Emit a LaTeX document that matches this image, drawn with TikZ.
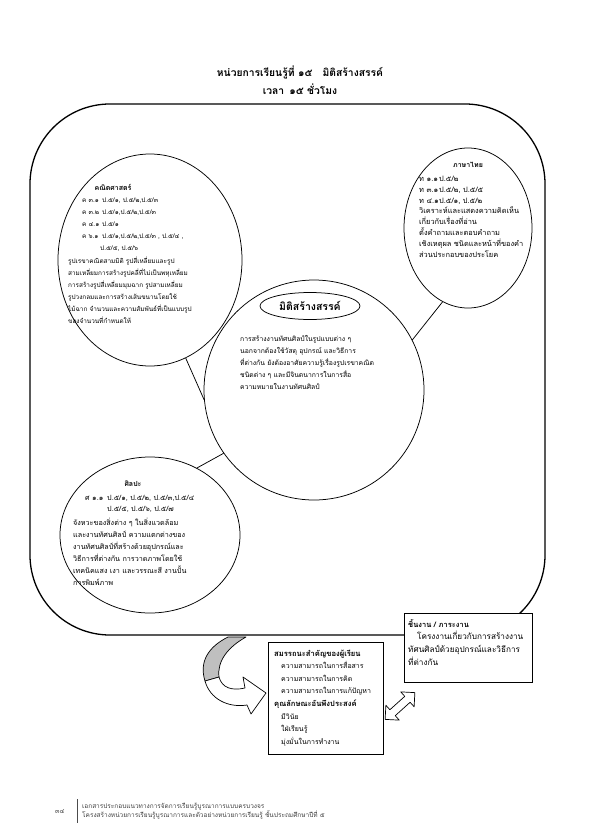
\documentclass[tikz,border=0pt]{standalone}
\usepackage{fontspec}
\setmainfont[Script=Thai]{Loma}
\usetikzlibrary{shapes.geometric}
\begin{document}
\begin{tikzpicture}[x=1bp,y=-1bp,
  bubble/.style={draw, ellipse, line width=0.75bp, inner sep=0pt},
  ring/.style={draw, circle, line width=0.75bp, inner sep=0pt},
  body/.style={inner sep=0pt, align=left, anchor=base west},
  head/.style={inner sep=0pt, anchor=base, font=\bfseries\fontsize{7bp}{12bp}\selectfont},
  framebox/.style={draw, fill=white, line width=0.9bp, inner sep=0pt},
  link/.style={line width=0.75bp},
]
\useasboundingbox (0,0) rectangle (595,836);
\fill[white] (0,0) rectangle (595,836);

% title (base = last line)
\node[inner sep=0pt, align=center, anchor=base, font=\bfseries\fontsize{10.3bp}{18bp}\selectfont] (title) at (300,94) {หน่วยการเรียนรู้ที่ ๑๕\quad มิติสร้างสรรค์\\เวลา\enspace ๑๕ ชั่วโมง};

% outer frame
\node[draw, line width=1.3bp, rounded corners=80bp, minimum width=515bp, minimum height=531bp, inner sep=0pt] (frame) at (287.5,369.5) {};

% bubbles
\node[bubble, minimum width=184bp, minimum height=212bp] (math) at (150,260) {};
\node[bubble, minimum width=128bp, minimum height=160bp] (thai) at (468,228) {};
\node[ring, minimum size=220bp] (core) at (314,390) {};
\node[bubble, minimum width=180bp, minimum height=156bp] (art) at (150,535) {};
\node[bubble, minimum width=100bp, minimum height=27bp, font=\bfseries\fontsize{10.5bp}{11bp}\selectfont] (theme) at (310,306) {มิติสร้างสรรค์};

% connectors
\draw[link] (math.-70) -- (core.185);
\draw[link] (thai.-109) -- (core.27);
\draw[link] (core.215) -- (art.55);

% math text
\node[head] (mathh) at (113,190.5) {คณิตศาสตร์};
\node[body, font=\fontsize{6.4bp}{12.1bp}\selectfont] (mathc) at (82,250.9) {\makebox[20bp][l]{ค ๓.๑}ป.๕/๑, ป.๕/๒,ป.๕/๓\\
\makebox[20bp][l]{ค ๓.๒}ป.๕/๑,ป.๕/๒,ป.๕/๓\\
\makebox[20bp][l]{ค ๔.๑}ป.๕/๑\\
\makebox[20bp][l]{ค ๖.๑}ป.๕/๑,ป.๕/๒,ป.๕/๓ , ป.๕/๔ ,\\
\hspace*{18bp}ป.๕/๕, ป.๕/๖};
\node[body, font=\fontsize{6.4bp}{12.1bp}\selectfont] (mathd) at (68,323.5) {รูปเรขาคณิตสามมิติ รูปสี่เหลี่ยมและรูป\\
สามเหลี่ยมการสร้างรูปคลี่ที่ไม่เป็นพหุเหลี่ยม\\
การสร้างรูปสี่เหลี่ยมมุมฉาก รูปสามเหลี่ยม\\
รูปวงกลมและการสร้างเส้นขนานโดยใช้\\
ไม้ฉาก จำนวนและความสัมพันธ์ที่เป็นแบบรูป\\
ของจำนวนที่กำหนดให้};

% thai text
\node[head] (thaih) at (468,167.5) {ภาษาไทย};
\node[body, font=\fontsize{7.4bp}{10.8bp}\selectfont] (thaib) at (419,257.1) {\makebox[20bp][l]{ท ๑.๑}ป.๕/๒\\
\makebox[20bp][l]{ท ๓.๑}ป.๕/๒, ป.๕/๕\\
\makebox[20bp][l]{ท ๔.๑}ป.๕/๑, ป.๕/๒\\
วิเคราะห์และแสดงความคิดเห็น\\
เกี่ยวกับเรื่องที่อ่าน\\
ตั้งคำถามและตอบคำถาม\\
เชิงเหตุผล ชนิดและหน้าที่ของคำ\\
ส่วนประกอบของประโยค};

% core text
\node[body, font=\fontsize{6.8bp}{12bp}\selectfont] (coreb) at (240,389.5) {การสร้างงานทัศนศิลป์ในรูปแบบต่าง ๆ\\
นอกจากต้องใช้วัสดุ อุปกรณ์ และวิธีการ\\
ที่ต่างกัน ยังต้องอาศัยความรู้เรื่องรูปเรขาคณิต\\
ชนิดต่าง ๆ และมีจินตนาการในการสื่อ\\
ความหมายในงานทัศนศิลป์};

% art text
\node[head] (arth) at (133,486) {ศิลปะ};
\node[body, font=\fontsize{7.2bp}{11bp}\selectfont] (artc) at (85,511.5) {\makebox[22bp][l]{ศ ๑.๑}ป.๕/๑, ป.๕/๒, ป.๕/๓,ป.๕/๔\\
\hspace*{22bp}ป.๕/๕, ป.๕/๖, ป.๕/๗};
\node[body, font=\fontsize{7.2bp}{12bp}\selectfont] (artd) at (73,585.5) {จังหวะของสิ่งต่าง ๆ ในสิ่งแวดล้อม\\
และงานทัศนศิลป์ ความแตกต่างของ\\
งานทัศนศิลป์ที่สร้างด้วยอุปกรณ์และ\\
วิธีการที่ต่างกัน การวาดภาพโดยใช้\\
เทคนิคแสง เงา และวรรณะสี งานปั้น\\
การพิมพ์ภาพ};

% task box
\node[framebox, minimum width=128bp, minimum height=69bp] (task) at (468,647.5) {};
\node[body, font=\fontsize{8.2bp}{12.7bp}\selectfont] (taskt) at (408,665.1) {{\bfseries\fontsize{7.5bp}{12.7bp}\selectfont ชิ้นงาน / ภาระงาน}\\
\hspace*{9bp}โครงงานเกี่ยวกับการสร้างงาน\\
ทัศนศิลป์ด้วยอุปกรณ์และวิธีการ\\
ที่ต่างกัน};

% competency box
\node[framebox, minimum width=115bp, minimum height=112bp] (comp) at (325.5,698) {};
\node[body, font=\fontsize{7bp}{12.6bp}\selectfont] (compt) at (274,744.2) {{\bfseries\fontsize{7.6bp}{12.6bp}\selectfont สมรรถนะสำคัญของผู้เรียน}\\
\hspace*{7bp}ความสามารถในการสื่อสาร\\
\hspace*{7bp}ความสามารถในการคิด\\
\hspace*{7bp}ความสามารถในการแก้ปัญหา\\
{\bfseries\fontsize{7.6bp}{12.6bp}\selectfont คุณลักษณะอันพึงประสงค์}\\
\hspace*{7bp}มีวินัย\\
\hspace*{7bp}ใฝ่เรียนรู้\\
\hspace*{7bp}มุ่งมั่นในการทำงาน};

% curved arrow
\draw[line width=0.7bp, fill=black!25, line join=round] (205,681) .. controls (199,662) and (208,647) .. (228,637) -- (246,637) .. controls (228,647) and (217,661) .. (219,677) -- cycle;
\draw[line width=0.7bp, fill=white, line join=round] (205,681) .. controls (210,699) and (228,708) .. (247,705) -- (251,714) -- (266,693) -- (243,677) -- (245,688) .. controls (232,691) and (222,688) .. (219,677) -- cycle;

% double arrow
\begin{scope}[shift={(400,706)}, rotate=42]
\draw[line width=0.7bp, fill=white, line join=round] (-20,0) -- (-10,-10) -- (-10,-4) -- (10,-4) -- (10,-10) -- (20,0) -- (10,10) -- (10,4) -- (-10,4) -- (-10,10) -- cycle;
\end{scope}

% footer
\node[inner sep=0pt, anchor=base west, font=\fontsize{6.5bp}{8bp}\selectfont, text=black!75] (page) at (55,813) {๓๔};
\coordinate (bartop) at (77,799);
\coordinate (barbot) at (77,823);
\draw[line width=0.5bp, black!70] (bartop) -- (barbot);
\node[inner sep=0pt, align=left, anchor=base west, font=\fontsize{6.5bp}{9bp}\selectfont, text=black!75] (foot) at (82,817) {เอกสารประกอบแนวทางการจัดการเรียนรู้บูรณาการแบบครบวงจร\\
โครงสร้างหน่วยการเรียนรู้บูรณาการและตัวอย่างหน่วยการเรียนรู้ ชั้นประถมศึกษาปีที่ ๕};
\end{tikzpicture}
\end{document}
